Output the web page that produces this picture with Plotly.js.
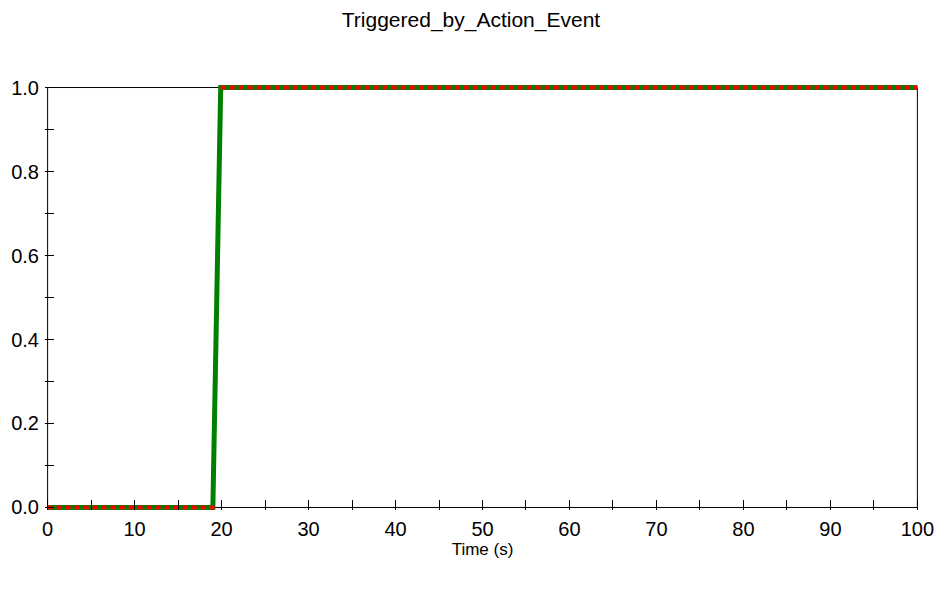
<!DOCTYPE html>
<html>
<head>
<meta charset="utf-8">
<script src="https://cdn.plot.ly/plotly-3.0.1.min.js"></script>
<style>html,body{margin:0;padding:0;background:#fff;}#chart{width:942px;height:591px;}</style>
</head>
<body>
<div id="chart"></div>
<script>
// Data
const timeGreen = [0, 19.0, 19.9, 100];
const valueGreen = [0, 0, 1, 1];
const timeRed = [0, 19.2, null, 19.9, 100];
const valueRed = [0, 0, null, 1, 1];
const chartTitle = 'Triggered_by_Action_Event';
const xTitle = 'Time (s)';

const FONT = 'Arial, "Liberation Sans", sans-serif';

const traces = [
  {
    x: timeGreen, y: valueGreen, type: 'scatter', mode: 'lines',
    line: {color: '#008000', width: 5}, hoverinfo: 'skip', showlegend: false
  },
  {
    x: timeRed, y: valueRed, type: 'scatter', mode: 'lines', connectgaps: false,
    line: {color: '#ff0000', width: 4, dash: '5px,4px'}, hoverinfo: 'skip', showlegend: false
  }
];

const layout = {
  width: 942, height: 591,
  paper_bgcolor: '#ffffff', plot_bgcolor: '#ffffff',
  margin: {l: 45.4, r: 22.4, t: 84.5, b: 80.5, pad: 0},
  showlegend: false,
  font: {family: FONT, color: '#000000'},
  title: {text: chartTitle, x: 0.5, xanchor: 'center', y: 1 - 20/591, yanchor: 'middle',
          font: {family: FONT, size: 21, color: '#000000'}},
  xaxis: {
    range: [-0.3, 100.3], dtick: 10, tick0: 0, showgrid: false, zeroline: false,
    showline: false, ticks: 'inside', ticklen: 10, tickcolor: '#000000', tickwidth: 1,
    minor: {dtick: 5, ticks: 'inside', ticklen: 10, tickcolor: '#000000', showgrid: false},
    ticklabelstandoff: 5,
    tickfont: {family: FONT, size: 20, color: '#000000'},
    title: {text: xTitle, font: {family: FONT, size: 17, color: '#000000'}, standoff: 2},
    fixedrange: true
  },
  yaxis: {
    range: [-0.006, 1.006], dtick: 0.2, tick0: 0, tickformat: '.1f', showgrid: false, zeroline: false,
    showline: false, ticks: 'inside', ticklen: 9, tickcolor: '#000000', tickwidth: 1,
    minor: {dtick: 0.1, ticks: 'inside', ticklen: 9, tickcolor: '#000000', showgrid: false},
    ticklabelstandoff: 5,
    tickfont: {family: FONT, size: 20, color: '#000000'},
    fixedrange: true
  },
  shapes: [
    {type: 'rect', xref: 'x', yref: 'y', x0: 0, x1: 100, y0: 0, y1: 1, layer: 'below',
     line: {color: '#000000', width: 1}, fillcolor: 'rgba(0,0,0,0)'}
  ]
};

Plotly.newPlot('chart', traces, layout, {staticPlot: true, displayModeBar: false});
</script>
</body>
</html>
